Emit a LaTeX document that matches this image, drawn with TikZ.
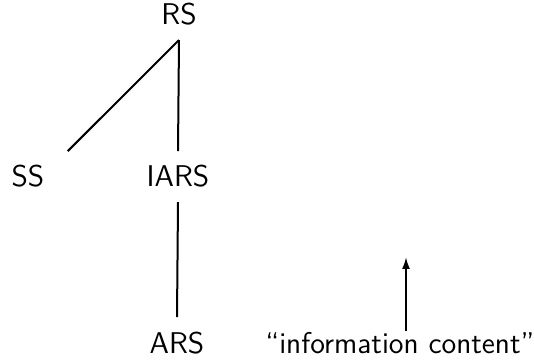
\documentclass[tikz,border=0pt]{standalone}
\usepackage{tikz}
\usetikzlibrary{arrows.meta}
\tikzstyle{lbl}=[inner sep=7pt, anchor=base, font=\sffamily\fontsize{15}{18}\selectfont]
\tikzstyle{tline}=[-, line width=1pt]
\tikzstyle{uparrow}=[-{Latex[length=6pt,width=4pt]}, line width=1pt]

\begin{document}
\begin{tikzpicture}[x=0.5pt, y=-0.5pt]
\useasboundingbox (0,0) rectangle (534,362);

\node (RS) [lbl] at (179,25) {RS};
\node (SS) [lbl] at (28,187) {SS};
\node (IARS) [lbl] at (178,187) {IARS};
\node (ARS) [lbl] at (177,353) {ARS};
\node (INFO) [lbl, inner sep=0pt] at (400,353) {``information content''};
\coordinate (INFOtop) at (406,257);

 \draw[tline] (RS.south) -- ([xshift=4.5pt]SS.north east);
 \draw[tline] (RS.south) -- (IARS.north);
 \draw[tline] (IARS.south) -- (ARS.north);
 \draw[uparrow] (INFO.north -| INFOtop) -- (INFOtop);

\end{tikzpicture}
\end{document}
